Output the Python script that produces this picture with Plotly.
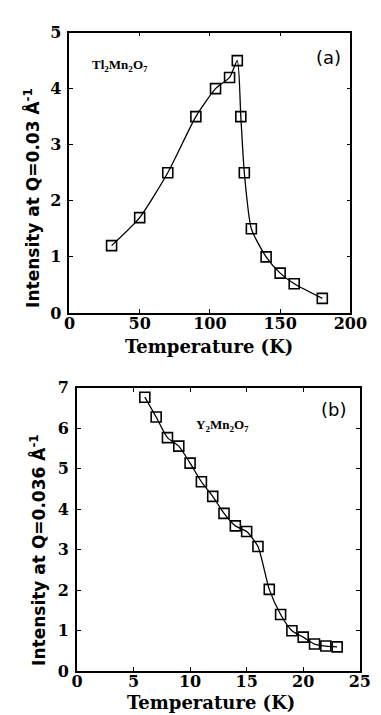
import plotly.graph_objects as go

# Panel (a): Tl2Mn2O7
temp_a = [30, 50, 70, 90, 104, 114, 119.5, 122, 124.5, 129.5, 140, 150, 160, 180]
int_a = [1.2, 1.7, 2.5, 3.5, 4.0, 4.2, 4.5, 3.5, 2.5, 1.5, 1.0, 0.71, 0.52, 0.26]

# Panel (b): Y2Mn2O7
temp_b = [6, 7, 8, 9, 10, 11, 12, 13, 14, 15, 16, 17, 18, 19, 20, 21, 22, 23]
int_b = [6.77, 6.28, 5.77, 5.56, 5.14, 4.68, 4.32, 3.9, 3.59, 3.45, 3.08, 2.02, 1.4, 1.0,
         0.84, 0.67, 0.62, 0.6]

xticks_a = [0, 50, 100, 150, 200]
yticks_a = [0, 1, 2, 3, 4, 5]
xticks_b = [0, 5, 10, 15, 20, 25]
yticks_b = [0, 1, 2, 3, 4, 5, 6, 7]

tick_font = dict(family="DejaVu Serif", size=16, color="black", weight="bold")
title_font = dict(family="DejaVu Serif", size=18, color="black", weight="bold")
ytitle_font = dict(family="DejaVu Sans", size=17, color="black", weight="bold")

fig = go.Figure()
common_trace = dict(mode="lines+markers",
                    line=dict(color="black", width=1.3, shape="spline", smoothing=0.6),
                    marker=dict(symbol="square-open", size=10, color="black",
                                line=dict(color="black", width=1.6)),
                    showlegend=False)
fig.add_trace(go.Scatter(x=temp_a, y=int_a, xaxis="x", yaxis="y", **common_trace))
fig.add_trace(go.Scatter(x=temp_b, y=int_b, xaxis="x2", yaxis="y2", **common_trace))

axis_common = dict(showgrid=False, zeroline=False, showline=True, linecolor="black",
                   linewidth=1.6, mirror="ticks", ticks="inside", ticklen=4,
                   tickwidth=1, tickcolor="black", tickfont=tick_font)

fig.update_layout(
    width=381, height=715,
    margin=dict(l=0, r=0, t=0, b=0),
    paper_bgcolor="white", plot_bgcolor="white",
    xaxis=dict(domain=[59/381, 358/381], range=[0, 200], tickvals=xticks_a,
               anchor="y", ticklabelstandoff=-5, **axis_common),
    yaxis=dict(domain=[1-304/715, 1-16/715], range=[0, 5], tickvals=yticks_a,
               anchor="x", ticklabelstandoff=3, **axis_common),
    xaxis2=dict(domain=[67/381, 368/381], range=[0, 25], tickvals=xticks_b,
                anchor="y2", ticklabelstandoff=-5, **axis_common),
    yaxis2=dict(domain=[1-672/715, 1-381/715], range=[0, 7], tickvals=yticks_b,
                anchor="x2", ticklabelstandoff=3, **axis_common),
)

ann = [
    dict(text="Temperature (K)", x=208/381, y=1-338/715, font=title_font),
    dict(text="Temperature (K)", x=210/381, y=1-704/715, font=title_font),
    dict(text="Intensity at Q=0.03 Å<sup>-1</sup>", x=19/381, y=1-186/715,
         textangle=-90, font=ytitle_font),
    dict(text="Intensity at Q=0.036 Å<sup>-1</sup>", x=26/381, y=1-547/715,
         textangle=-90, font=ytitle_font),
    dict(text="(a)", x=335/381, y=1-42/715,
         font=dict(family="DejaVu Sans", size=18, color="black")),
    dict(text="(b)", x=340/381, y=1-403/715,
         font=dict(family="DejaVu Sans", size=18, color="black")),
    dict(text="Tl<sub>2</sub>Mn<sub>2</sub>O<sub>7</sub>", x=113/381, y=1-50/715,
         font=dict(family="Liberation Serif", size=13, color="black", weight="bold")),
    dict(text="Y<sub>2</sub>Mn<sub>2</sub>O<sub>7</sub>", x=222/381, y=1-420/715,
         font=dict(family="Liberation Serif", size=13, color="black", weight="bold")),
]
for a in ann:
    fig.add_annotation(xref="paper", yref="paper", showarrow=False,
                       xanchor="center", yanchor="middle", **a)

fig.write_html("out.html")
